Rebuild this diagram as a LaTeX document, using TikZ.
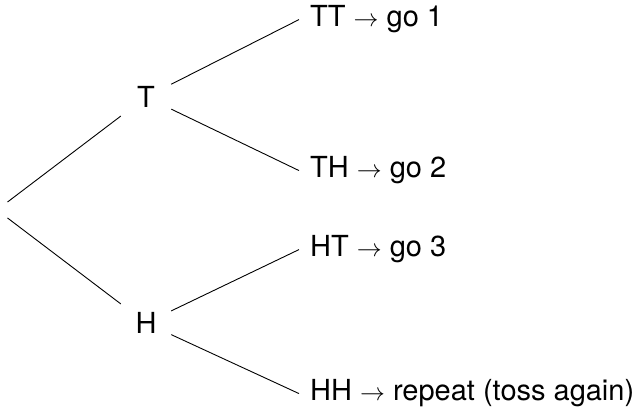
\documentclass[tikz,border=0pt]{standalone}
\usepackage{fontspec}
\setmainfont{TeX Gyre Heros}
\begin{document}
\begin{tikzpicture}[x=1pt,y=1pt,
  every node/.style={font=\fontsize{29}{34}\selectfont},
  inner/.style={rectangle,minimum width=50pt,minimum height=50pt,inner sep=0pt},
  rootnode/.style={circle,minimum size=26pt,inner sep=0pt},
  leaf/.style={anchor=base west,inner xsep=11pt,inner ysep=0pt},
  edge/.style={line width=0.9pt}]
\useasboundingbox (0,0) rectangle (640,412);
\node[rootnode] (root) at (-3,202) {};
\node[inner] (T) at (146,315) {T};
\node[inner] (H) at (146,89) {H};
\node[leaf] (TT) at (299,385) {TT $\to$ go 1};
\node[leaf] (TH) at (299,234) {TH $\to$ go 2};
\node[leaf] (HT) at (299,155) {HT $\to$ go 3};
\node[leaf] (HH) at (299,11) {HH $\to$ repeat (toss again)};
\draw[edge] (root) -- (T);
\draw[edge] (root) -- (H);
\draw[edge] (T) -- (TT.west);
\draw[edge] (T) -- (TH.west);
\draw[edge] (H) -- (HT.west);
\draw[edge] (H) -- (HH.west);
\end{tikzpicture}
\end{document}
